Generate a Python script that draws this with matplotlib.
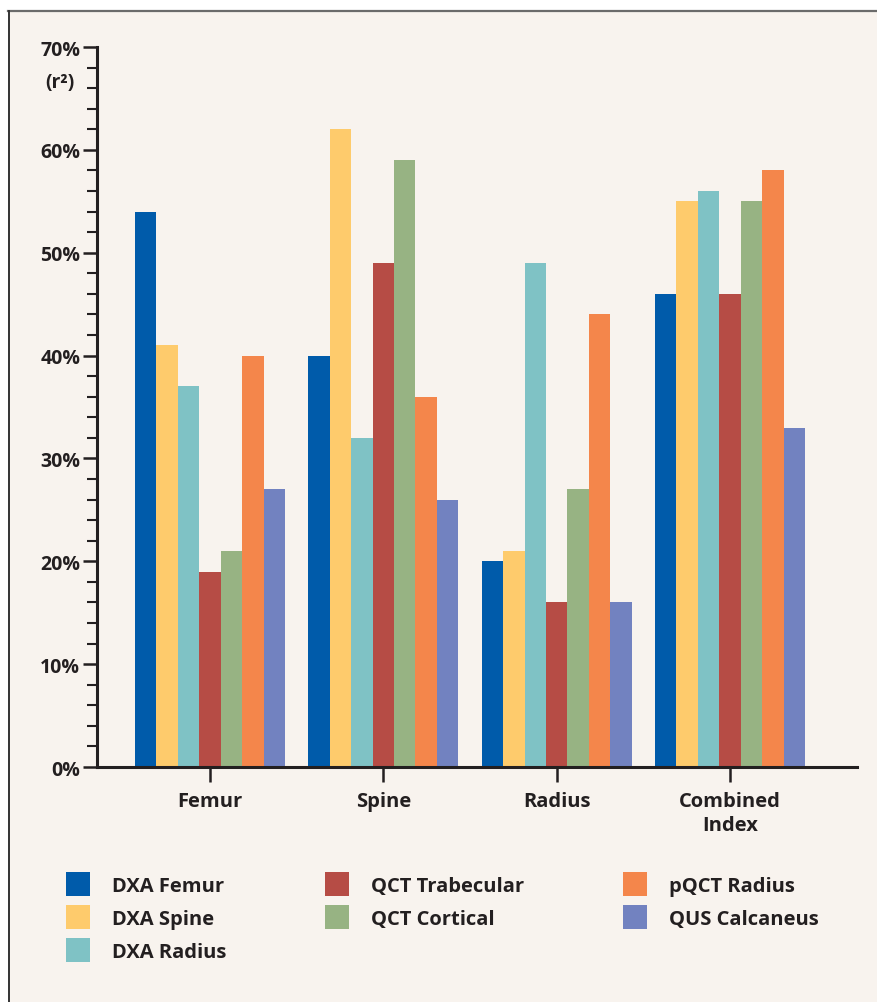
import numpy as np
import matplotlib.pyplot as plt
from matplotlib.lines import Line2D
from matplotlib.patches import Rectangle

# data (r^2 in %)
sites = ['Femur', 'Spine', 'Radius', 'Combined\nIndex']
methods = ['DXA Femur', 'DXA Spine', 'DXA Radius', 'QCT Trabecular',
           'QCT Cortical', 'pQCT Radius', 'QUS Calcaneus']
dxa_femur = [54, 40, 20, 46]
dxa_spine = [41, 62, 21, 55]
dxa_radius = [37, 32, 49, 56]
qct_trab = [19, 49, 16, 46]
qct_cort = [21, 59, 27, 55]
pqct_radius = [40, 36, 44, 58]
qus_calc = [27, 26, 16, 33]
colors = ['#005baa', '#fecb6c', '#7fc2c5', '#b64c45', '#97b383', '#f4864b', '#7282c0']

series = [dxa_femur, dxa_spine, dxa_radius, qct_trab, qct_cort, pqct_radius, qus_calc]
ink = '#231f20'
panel = '#f8f3ee'

plt.rcParams['font.family'] = ['Open Sans', 'DejaVu Sans']
plt.rcParams['font.weight'] = 'bold'

W, H = 877, 1003
fig = plt.figure(figsize=(W / 100, H / 100), dpi=100)
fig.patch.set_facecolor('white')

# background panel with borders on top and left
fig.add_artist(Rectangle((8 / W, 0), 1 - 8 / W, 1 - 12 / H, transform=fig.transFigure,
                         facecolor=panel, edgecolor='none', zorder=0))
fig.add_artist(Line2D([8 / W, 1], [1 - 12 / H, 1 - 12 / H], transform=fig.transFigure,
                      color='#6b6b6b', lw=1.6))
fig.add_artist(Line2D([8.5 / W, 8.5 / W], [0, 1 - 12 / H], transform=fig.transFigure,
                      color='#333333', lw=1.4))

ax = fig.add_axes([97 / W, 1 - 768 / H, 760 / W, 720 / H])
ax.set_facecolor('none')

x = np.arange(len(sites))
w = 0.1236
for i, (vals, name, c) in enumerate(zip(series, methods, colors)):
    ax.bar(x + (i - 3) * w, vals, width=w, color=c, label=name, linewidth=0)

ax.set_ylim(0, 70)
ax.set_xlim(-0.652, 3.733)
ax.set_yticks(np.arange(0, 71, 10))
ax.set_yticklabels([f'{v}%' for v in range(0, 71, 10)])
ax.set_yticks(np.arange(0, 71, 2), minor=True)
ax.set_xticks(x)
ax.set_xticklabels(sites, linespacing=1.3)

for side in ['top', 'right']:
    ax.spines[side].set_visible(False)
for side in ['left', 'bottom']:
    ax.spines[side].set_linewidth(2.2)
    ax.spines[side].set_color(ink)

ax.tick_params(axis='y', which='major', length=10, width=1.8, color=ink,
               labelsize=14, labelcolor=ink, pad=2)
ax.tick_params(axis='y', which='minor', length=7, width=1.5, color=ink)
ax.tick_params(axis='x', which='major', length=11, width=1.8, color=ink,
               labelsize=14.5, labelcolor=ink, pad=6)

fig.text(60 / W, 1 - 83 / H, '(r²)', ha='center', va='center', fontsize=14,
         color=ink, fontweight='bold')

fig.legend(loc='upper left', bbox_to_anchor=(66 / W, 1 - 873 / H), ncol=3,
           frameon=False, fontsize=14.5, labelcolor=ink, borderpad=0,
           borderaxespad=0, handlelength=1.19, handleheight=1.46,
           handletextpad=1.09, labelspacing=0.45, columnspacing=4.9)

fig.savefig('out.png', dpi=100, facecolor=fig.get_facecolor())
